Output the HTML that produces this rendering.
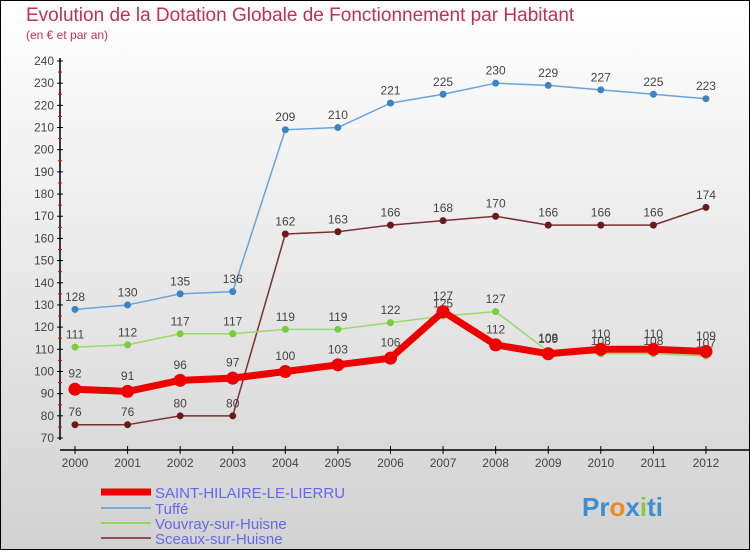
<!DOCTYPE html>
<html><head><meta charset="utf-8"><style>
body{margin:0}
#c{width:750px;height:550px;position:relative;font-family:"Liberation Sans",sans-serif}
</style></head><body>
<div id="c">
<svg id="s" width="750" height="550" xmlns="http://www.w3.org/2000/svg" font-family="Liberation Sans, sans-serif">
<defs><linearGradient id="bg" x1="0" y1="0" x2="0" y2="1"><stop offset="0" stop-color="#ffffff"/><stop offset="1" stop-color="#d2d2d2"/></linearGradient></defs>
<rect x="0.5" y="0.5" width="749" height="549" fill="url(#bg)" stroke="#000"/>
<text x="26" y="21" font-size="19" fill="#c0305a">Evolution de la Dotation Globale de Fonctionnement par Habitant</text>
<text x="26" y="39" font-size="12" fill="#c0305a">(en € et par an)</text>
<g id="axes"></g>
<g id="series"></g>
<g>
<line x1="101" y1="492" x2="151" y2="492" stroke="#e00" stroke-width="7"/>
<text x="155" y="498" font-size="15" fill="#6666ee">SAINT-HILAIRE-LE-LIERRU</text>
<line x1="101" y1="508" x2="151" y2="508" stroke="#7aaad8" stroke-width="2"/>
<text x="155" y="514" font-size="15" fill="#6666ee">Tuffé</text>
<line x1="101" y1="523" x2="151" y2="523" stroke="#8ed85a" stroke-width="2"/>
<text x="155" y="529" font-size="15" fill="#6666ee">Vouvray-sur-Huisne</text>
<line x1="101" y1="538" x2="151" y2="538" stroke="#8a5050" stroke-width="2"/>
<text x="155" y="544" font-size="15" fill="#6666ee">Sceaux-sur-Huisne</text>
</g>
<text x="582" y="516" font-size="26" font-weight="bold" fill="#3a8fd0">Pr<tspan fill="#f08a20">o</tspan>x<tspan fill="#8ac83a">i</tspan>ti</text>
</svg>
</div>
<script>
const years=["2000","2001","2002","2003","2004","2005","2006","2007","2008","2009","2010","2011","2012"];
const yTicks=[70,80,90,100,110,120,130,140,150,160,170,180,190,200,210,220,230,240];
const saint=[92,91,96,97,100,103,106,127,112,108,110,110,109];
const tuffe=[128,130,135,136,209,210,221,225,230,229,227,225,223];
const vouvray=[111,112,117,117,119,119,122,125,127,109,108,108,107];
const sceaux=[76,76,80,80,162,163,166,168,170,166,166,166,174];
const NS="http://www.w3.org/2000/svg";
const xs=i=>75+i*52.58;
const ys=v=>438-(v-70)*(377/170);
function mk(t,a,p){const e=document.createElementNS(NS,t);for(const k in a)e.setAttribute(k,a[k]);p.appendChild(e);return e;}
const ax=document.getElementById('axes');
let yl=mk('line',{x1:60,y1:58,x2:60,y2:440,stroke:'#000','stroke-width':1.5},ax);


yTicks.forEach((v,k)=>{
 mk('line',{x1:57,y1:ys(v),x2:63,y2:ys(v),stroke:'#000'},ax);
 if(k<yTicks.length-1) mk('line',{x1:58,y1:ys(v+5),x2:62,y2:ys(v+5),stroke:'#e00'},ax);
 const t=mk('text',{x:54,y:ys(v)+4,'font-size':12,fill:'#444','text-anchor':'end'},ax);t.textContent=v;
 
 
});
let xl=mk('line',{x1:60,y1:450,x2:750,y2:450,stroke:'#000','stroke-width':1.5},ax);


years.forEach((y,i)=>{
 mk('line',{x1:xs(i),y1:446,x2:xs(i),y2:454,stroke:'#000'},ax);
 const t=mk('text',{x:xs(i),y:467,'font-size':12,fill:'#444','text-anchor':'middle'},ax);t.textContent=y;
 
 
});
const sg=document.getElementById('series');
function draw(data,col,w,r,name,dot){
 const g=mk('g',{},sg);
 
 
 mk('polyline',{points:data.map((v,i)=>xs(i)+','+ys(v)).join(' '),fill:'none',stroke:col,'stroke-width':w,'stroke-linejoin':'round'},g);
 data.forEach((v,i)=>{
  const c=mk('circle',{cx:xs(i),cy:ys(v),r:r,fill:dot},g);
  
  
  const t=mk('text',{x:xs(i),y:ys(v)-r-5,'font-size':12,fill:'#444','text-anchor':'middle'},g);t.textContent=v;
 });
}
draw(sceaux,'#7a3030',1.5,3.5,'series-sceaux','#6a1a1a');
draw(tuffe,'#6aa4d8',1.5,3.5,'series-tuffe','#3a84c4');
draw(vouvray,'#9ad868',1.5,3.5,'series-vouvray','#7acc3a');
draw(saint,'#ee0000',7,6.5,'series-saint-hilaire','#e00');
</script>
</body></html>
